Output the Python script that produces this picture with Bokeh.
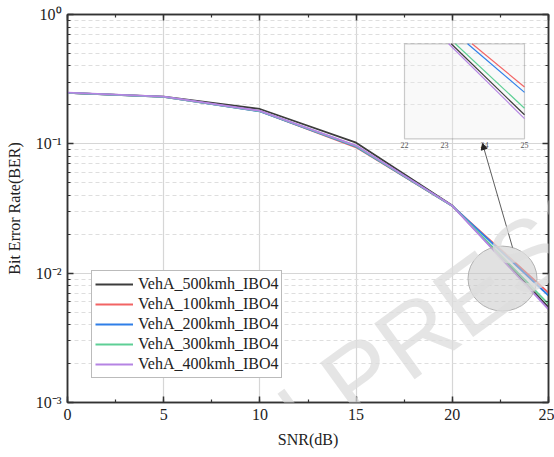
import numpy as np
from bokeh.plotting import figure
from bokeh.models import (Range1d, LogScale, LinearAxis, LogAxis, SingleIntervalTicker, LogTicker,
                          BoxAnnotation, Arrow, NormalHead, Label, Legend, LegendItem,
                          CustomJSTickFormatter)
from bokeh.core.properties import value
from bokeh.embed import file_html
from bokeh.resources import INLINE

# ---------------- data ----------------
snr = [0, 5, 10, 15, 20, 25]
ber_500 = [0.248, 0.232, 0.186, 0.102, 0.0333, 0.00544]
ber_100 = [0.248, 0.231, 0.179, 0.094, 0.0330, 0.00705]
ber_200 = [0.248, 0.231, 0.178, 0.095, 0.0331, 0.00671]
ber_300 = [0.248, 0.231, 0.179, 0.096, 0.0331, 0.00578]
ber_400 = [0.249, 0.232, 0.180, 0.097, 0.0332, 0.00525]

series_labels = ["VehA_500kmh_IBO4", "VehA_100kmh_IBO4", "VehA_200kmh_IBO4",
                 "VehA_300kmh_IBO4", "VehA_400kmh_IBO4"]
series_values = [ber_500, ber_100, ber_200, ber_300, ber_400]
series_colors = ["#3c3c3c", "#f26464", "#2f7fe8", "#5ecf95", "#b584e3"]

inset_ticks = [22, 23, 24, 25]
x_ticks_interval = 5

# inset view window
INSET_X = (22, 25)
INSET_Y = (10 ** -2.362, 10 ** -1.976)
# inset placement (extra ranges spanning the whole frame)
INSET_XR = (13.575, 25.6)
INSET_YR = (10 ** -3.4335, 10 ** -1.857)

SERIF = "Liberation Serif"

p = figure(width=554, height=457, output_backend="svg", toolbar_location=None,
           y_axis_type="log", x_range=Range1d(0, 25), y_range=Range1d(1e-3, 1),
           min_border_left=67, min_border_right=6, min_border_top=14, min_border_bottom=55,
           background_fill_color="white", border_fill_color="white",
           outline_line_color="#333333", outline_line_width=1.5)

p.extra_x_ranges = {"inset": Range1d(*INSET_XR)}
p.extra_y_ranges = {"inset": Range1d(*INSET_YR)}
p.extra_y_scales = {"inset": LogScale()}

# ---------------- axes ----------------
p.xaxis.ticker = SingleIntervalTicker(interval=x_ticks_interval, num_minor_ticks=2)
for ax in (p.xaxis[0], p.yaxis[0]):
    ax.major_tick_in = 6
    ax.major_tick_out = 0
    ax.minor_tick_in = 3
    ax.minor_tick_out = 0
    ax.axis_line_color = "#333333"
    ax.axis_line_width = 1.5
    ax.major_tick_line_color = "#333333"
    ax.major_tick_line_width = 1.5
    ax.minor_tick_line_color = "#333333"
    ax.minor_tick_line_width = 1.2
    ax.major_label_text_font = SERIF
    ax.major_label_text_font_size = "16px"
    ax.major_label_text_color = "#222222"
    ax.axis_label_text_font = SERIF
    ax.axis_label_text_font_size = "16px"
    ax.axis_label_text_font_style = "normal"
    ax.axis_label_text_color = "#222222"

p.xaxis.axis_label = "SNR(dB)"
p.xaxis.major_label_standoff = 6
p.xaxis.axis_label_standoff = 8
p.yaxis.axis_label = "Bit Error Rate(BER)"
p.yaxis.major_label_standoff = 6
p.yaxis.axis_label_standoff = 10
p.yaxis.formatter = CustomJSTickFormatter(code="""
const e = Math.round(Math.log10(tick));
const sup = {'-':'\u207B','0':'\u2070','1':'\u00B9','2':'\u00B2','3':'\u00B3','4':'\u2074',
             '5':'\u2075','6':'\u2076','7':'\u2077','8':'\u2078','9':'\u2079'};
return '10' + String(e).split('').map(c => sup[c]).join('');
""")

blank = CustomJSTickFormatter(code="return '';")
top = LinearAxis(ticker=SingleIntervalTicker(interval=x_ticks_interval, num_minor_ticks=2),
                 formatter=blank, major_label_text_font_size="8px", major_label_standoff=0)
right = LogAxis(ticker=LogTicker(), formatter=blank,
                major_label_text_font_size="8px", major_label_standoff=0)
for ax in (top, right):
    ax.major_tick_in = 6
    ax.major_tick_out = 0
    ax.minor_tick_in = 3
    ax.minor_tick_out = 0
    ax.axis_line_color = "#333333"
    ax.axis_line_width = 1.5
    ax.major_tick_line_color = "#333333"
    ax.major_tick_line_width = 1.5
    ax.minor_tick_line_color = "#333333"
    ax.minor_tick_line_width = 1.2
p.add_layout(top, "above")
p.add_layout(right, "right")

# ---------------- grid ----------------
p.xgrid.grid_line_color = "#d6d6d6"
p.xgrid.grid_line_width = 1.2
p.ygrid.grid_line_color = "#d6d6d6"
p.ygrid.grid_line_width = 1.2
p.ygrid.minor_grid_line_color = "#dedede"
p.ygrid.minor_grid_line_dash = "4 3"

# ---------------- main lines ----------------
items = []
for lab, vals, col in zip(series_labels, series_values, series_colors):
    r = p.line(snr, vals, line_color=col, line_width=1.8)
    items.append(LegendItem(label=lab, renderers=[r]))

legend = Legend(items=items, location=(24, 24), label_text_font=SERIF,
                label_text_font_size="16px", label_text_color="#222222",
                glyph_width=38, glyph_height=20, label_height=20, spacing=0,
                padding=3, margin=0, label_standoff=5,
                border_line_color="#777777", border_line_width=1,
                background_fill_color="white", background_fill_alpha=1)
p.add_layout(legend, "center")

# ---------------- zoom marker ----------------
ZOOM_X, ZOOM_Y = 22.61, 0.00908
p.ellipse(x=[ZOOM_X], y=[ZOOM_Y], width=69, height=65, width_units="screen",
          height_units="screen", fill_color="#c8c8c8", fill_alpha=0.55,
          line_color="#b0b0b0", line_width=1)

p.add_layout(Arrow(end=NormalHead(size=6, fill_color="#222222", line_color="#222222"),
                   x_start=23.13, y_start=0.0158, x_end=21.57, y_end=0.1005,
                   line_color="#333333", line_width=0.8))

# ---------------- inset ----------------
p.add_layout(BoxAnnotation(left=INSET_X[0], right=INSET_X[1], bottom=INSET_Y[0], top=INSET_Y[1],
                           x_range_name="inset", y_range_name="inset",
                           fill_color="#eeeeee", fill_alpha=0.35,
                           line_color="#555555", line_width=1.2, level="underlay"))

logT = np.log10(INSET_Y[1])
for vals, col in zip(series_values, series_colors):
    x0, x1 = snr[-2], snr[-1]
    l0, l1 = np.log10(vals[-2]), np.log10(vals[-1])
    xc = x0 + (x1 - x0) * (logT - l0) / (l1 - l0)
    xc = max(xc, INSET_X[0])
    yc = 10 ** (l0 + (l1 - l0) * (xc - x0) / (x1 - x0))
    p.line([xc, x1], [yc, vals[-1]], line_color=col, line_width=1.2,
           x_range_name="inset", y_range_name="inset")

p.text(x=inset_ticks, y=[INSET_Y[0]] * len(inset_ticks), text=[str(t) for t in inset_ticks],
       x_range_name="inset", y_range_name="inset", text_font=value(SERIF),
       text_font_size="8px", text_color="#555555", text_align="center",
       text_baseline="top", y_offset=3)

# ---------------- watermark ----------------
p.add_layout(Label(x=10.16, y=1.34e-4, text="IN PRESS", angle=36, angle_units="deg",
                   text_font="Liberation Sans", text_font_size="100px",
                   text_color="#dcdcdc", text_alpha=0.75))

open("out.html", "w").write(file_html(p, INLINE))
